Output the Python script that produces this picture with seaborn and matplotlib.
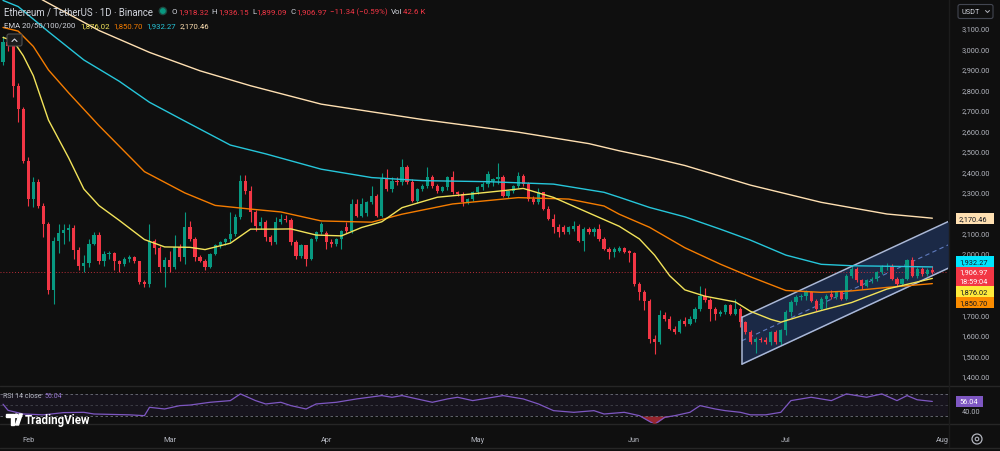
import matplotlib
matplotlib.use("Agg")
import matplotlib.pyplot as plt
import seaborn as sns
import numpy as np
from matplotlib.patches import Rectangle, FancyBboxPatch, Circle, Polygon
from matplotlib.lines import Line2D
from matplotlib.transforms import IdentityTransform

# ---------------------------------------------------------------- data
# candle index 0 = 27 Jan, one candle per day, last candle = 30 Jul
month_labels = ["Feb", "Mar", "Apr", "May", "Jun", "Jul", "Aug"]
month_days = [5, 33, 64, 94, 125, 155, 186]

open_ = [2935, 3030, 3012, 2818, 2704, 2452, 2265, 2346, 2232, 2143,
         1817, 2061, 2100, 2112, 2122, 2016, 1939, 1950, 2045, 2086,
         1963, 1996, 2000, 1960, 1947, 1972, 1980, 1960, 1858, 1850,
         2061, 2025, 1931, 1967, 1931, 2029, 1980, 2126, 2069, 1980,
         1963, 1931, 1996, 2037, 2053, 2069, 2094, 2175, 2354, 2305,
         2200, 2134, 2151, 2078, 2053, 2151, 2167, 2160, 2053, 1988,
         2037, 1972, 2069, 2102, 2100, 2053, 2045, 2069, 2126, 2110,
         2240, 2183, 2195, 2248, 2281, 2183, 2362, 2314, 2354, 2346,
         2419, 2346, 2256, 2313, 2330, 2370, 2330, 2305, 2322, 2370,
         2297, 2289, 2248, 2265, 2297, 2322, 2338, 2350, 2362, 2370,
         2281, 2305, 2330, 2379, 2338, 2265, 2248, 2297, 2216, 2167,
         2126, 2126, 2102, 2118, 2134, 2061, 2118, 2102, 2118, 2069,
         2021, 2004, 2012, 2024, 2010, 2000, 1850, 1809, 1768, 1581,
         1565, 1695, 1679, 1630, 1614, 1670, 1654, 1679, 1725, 1790,
         1770, 1727, 1703, 1711, 1744, 1703, 1727, 1662, 1614, 1565,
         1581, 1573, 1565, 1613, 1565, 1622, 1711, 1760, 1784, 1792,
         1809, 1768, 1727, 1776, 1800, 1784, 1809, 1776, 1890, 1923,
         1866, 1841, 1866, 1874, 1906, 1931, 1939, 1874, 1849, 1874,
         1964, 1890, 1923, 1898, 1918.32]
high = [3060, 3070, 3038, 2830, 2715, 2471, 2370, 2360, 2245, 2150,
        2080, 2143, 2143, 2143, 2138, 2030, 1990, 2070, 2102, 2102,
        2012, 2012, 2005, 1968, 1980, 1990, 1985, 1963, 1870, 2143,
        2069, 2035, 1980, 2012, 2086, 2045, 2200, 2159, 2080, 1990,
        1972, 2000, 2045, 2060, 2075, 2200, 2190, 2380, 2380, 2330,
        2210, 2175, 2160, 2090, 2175, 2190, 2185, 2170, 2065, 2045,
        2040, 2075, 2110, 2150, 2110, 2070, 2075, 2115, 2150, 2265,
        2265, 2270, 2255, 2330, 2290, 2390, 2410, 2370, 2370, 2460,
        2430, 2360, 2320, 2340, 2420, 2380, 2340, 2330, 2375, 2400,
        2305, 2300, 2270, 2305, 2330, 2345, 2400, 2365, 2440, 2380,
        2310, 2335, 2395, 2385, 2345, 2280, 2320, 2300, 2230, 2190,
        2140, 2135, 2130, 2155, 2140, 2125, 2125, 2125, 2140, 2080,
        2030, 2030, 2035, 2030, 2015, 2004, 1860, 1820, 1775, 1600,
        1720, 1710, 1690, 1645, 1680, 1685, 1690, 1735, 1840, 1830,
        1780, 1735, 1720, 1750, 1750, 1776, 1735, 1670, 1625, 1590,
        1590, 1590, 1620, 1625, 1630, 1720, 1770, 1795, 1800, 1820,
        1815, 1775, 1785, 1800, 1820, 1815, 1812, 1900, 1935, 1930,
        1875, 1875, 1885, 1912, 1940, 1950, 1945, 1885, 1880, 1972,
        1980, 1930, 1932, 1928, 1936.15]
low = [2920, 2990, 2761, 2639, 2440, 2232, 2225, 2220, 2078, 1800,
       1752, 2000, 2045, 2061, 1972, 1915, 1907, 1930, 2037, 1947,
       1939, 1972, 1915, 1907, 1935, 1955, 1950, 1850, 1833, 1833,
       1996, 1907, 1833, 1907, 1923, 1963, 1947, 2061, 1963, 1955,
       1915, 1925, 1990, 2025, 2040, 2055, 2085, 2165, 2290, 2150,
       2110, 2120, 2061, 2040, 2045, 2140, 2150, 2040, 1972, 1975,
       1939, 1965, 2060, 2095, 2020, 2030, 2035, 2020, 2100, 2100,
       2175, 2175, 2180, 2240, 2175, 2175, 2305, 2300, 2335, 2335,
       2340, 2250, 2245, 2305, 2320, 2320, 2295, 2300, 2310, 2290,
       2280, 2230, 2240, 2255, 2290, 2310, 2325, 2330, 2340, 2275,
       2270, 2295, 2320, 2330, 2255, 2240, 2240, 2210, 2160, 2100,
       2080, 2095, 2095, 2110, 2055, 2010, 2095, 2085, 2060, 2015,
       1972, 1980, 2005, 1998, 1955, 1840, 1770, 1720, 1560, 1508,
       1555, 1670, 1625, 1605, 1610, 1645, 1650, 1665, 1718, 1760,
       1670, 1672, 1690, 1700, 1695, 1695, 1640, 1605, 1555, 1510,
       1565, 1555, 1550, 1555, 1550, 1600, 1690, 1745, 1770, 1770,
       1760, 1715, 1720, 1730, 1775, 1775, 1770, 1770, 1880, 1860,
       1825, 1835, 1855, 1865, 1898, 1918, 1870, 1840, 1842, 1868,
       1885, 1880, 1890, 1890, 1899.09]
close = [3030, 3012, 2818, 2704, 2452, 2265, 2346, 2232, 2143, 1817,
         2061, 2100, 2112, 2122, 2016, 1939, 1950, 2045, 2086, 1963,
         1996, 2000, 1960, 1947, 1972, 1980, 1960, 1858, 1850, 2061,
         2025, 1931, 1967, 1931, 2029, 1980, 2126, 2069, 1980, 1963,
         1931, 1996, 2037, 2053, 2069, 2094, 2175, 2354, 2305, 2200,
         2134, 2151, 2078, 2053, 2151, 2167, 2160, 2053, 1988, 2037,
         1972, 2069, 2102, 2143, 2053, 2045, 2069, 2110, 2110, 2240,
         2183, 2240, 2248, 2281, 2183, 2362, 2314, 2354, 2346, 2419,
         2346, 2256, 2313, 2330, 2370, 2330, 2305, 2322, 2370, 2297,
         2289, 2248, 2265, 2297, 2322, 2338, 2387, 2362, 2370, 2281,
         2305, 2330, 2379, 2338, 2265, 2248, 2297, 2216, 2167, 2126,
         2102, 2102, 2126, 2134, 2061, 2118, 2102, 2118, 2069, 2021,
         2004, 2020, 2024, 2004, 2000, 1850, 1809, 1768, 1581, 1565,
         1695, 1679, 1630, 1614, 1670, 1654, 1679, 1727, 1790, 1770,
         1727, 1703, 1711, 1744, 1703, 1727, 1662, 1614, 1565, 1581,
         1573, 1565, 1613, 1565, 1622, 1711, 1760, 1784, 1792, 1809,
         1768, 1727, 1776, 1792, 1784, 1809, 1776, 1890, 1923, 1866,
         1841, 1866, 1874, 1906, 1931, 1939, 1874, 1849, 1874, 1964,
         1890, 1923, 1898, 1918.32, 1906.97]

ema20_days = [0, 2, 4, 6, 9, 13, 16, 19, 23, 28, 32, 37, 40, 45, 49, 54, 57, 62, 67, 71,
              75, 79, 86, 92, 99, 103, 109, 116, 122, 126, 129, 132, 135, 139, 142, 145, 148,
              152, 154, 158, 162, 168, 175, 184]
ema20_vals = [3054, 3038, 2965, 2867, 2650, 2465, 2313, 2232, 2160, 2066, 2030, 2028, 2017,
              2048, 2117, 2117, 2118, 2088, 2084, 2125, 2153, 2222, 2273, 2287, 2305, 2316,
              2272, 2196, 2131, 2069, 1990, 1889, 1820, 1789, 1775, 1761, 1715, 1676, 1662,
              1692, 1719, 1758, 1824, 1876.02]
ema50_days = [0, 3, 6, 9, 13, 19, 28, 36, 42, 49, 55, 63, 73, 79, 89, 102, 112, 119, 122,
              128, 135, 142, 148, 155, 162, 168, 175, 184]
ema50_vals = [3103, 3085, 3010, 2895, 2783, 2623, 2398, 2294, 2233, 2215, 2201, 2157, 2151,
              2190, 2240, 2271, 2264, 2230, 2190, 2126, 2026, 1946, 1884, 1817, 1808, 1815,
              1832, 1850.70]
ema100_days = [0, 3, 9, 16, 23, 29, 36, 45, 52, 63, 73, 83, 96, 109, 119, 122, 128, 135,
               142, 148, 155, 162, 168, 184]
ema100_vals = [3235, 3205, 3082, 2944, 2840, 2737, 2645, 2528, 2485, 2410, 2369, 2354, 2349,
               2337, 2297, 2273, 2223, 2177, 2117, 2063, 1990, 1945, 1938, 1932.27]
ema200_days = [0, 8, 19, 29, 39, 49, 63, 83, 102, 116, 122, 128, 135, 148, 162, 175, 184]
ema200_vals = [3350, 3235, 3088, 2981, 2891, 2818, 2728, 2653, 2591, 2535, 2500, 2469, 2428,
               2332, 2248, 2191, 2170.46]

rsi_days = [0, 1, 4, 8, 12, 16, 18, 25, 28, 29, 32, 35, 37, 41, 45, 47, 50, 52, 55, 57,
            60, 62, 66, 70, 75, 77, 79, 85, 88, 90, 93, 95, 99, 103, 106, 109, 113, 117, 119,
            123, 126, 129, 131, 133, 136, 138, 141, 143, 146, 148, 151, 154, 156, 160, 164,
            167, 171, 174, 177, 179, 181, 184]
rsi_vals = [51, 40, 33.5, 32, 36, 36.5, 33.5, 32, 30.5, 45.5, 42.5, 48.5, 49.5, 54.5, 57.5,
            69.5, 57.5, 51.5, 54.5, 48.5, 42.5, 51.5, 54.5, 60.5, 66.5, 63.5, 66.5, 54.5, 60.5,
            63.5, 57.5, 60.5, 66.5, 60.5, 51.5, 39.5, 36.5, 39.5, 33.5, 36.5, 30.5, 15, 27.5,
            30.5, 36.5, 48.5, 42.5, 39.5, 36.5, 32, 32, 36.5, 57.5, 63.5, 57.5, 69.5, 63.5,
            69.5, 57.5, 66.5, 59, 56.04]

# parallel channel drawing (start / end day, upper and lower price)
chan_days = [146.3, 187.5]
chan_upper = [1686, 2158]
chan_lower = [1457, 1930]

price_ticks = list(range(1400, 3101, 100))
countdown = "18:59:04"

# ---------------------------------------------------------------- style
BG = "#0f0f0f"
TXT = "#b2b5be"
TXT2 = "#d1d4dc"
UP = "#089981"
DN = "#f23645"
C20 = "#f2e35a"
C50 = "#f57c00"
C100 = "#26c6da"
C200 = "#ffe0b2"
RSI_C = "#7e57c2"

sns.set_theme(style="dark", rc={"axes.facecolor": BG, "figure.facecolor": BG})
plt.rcParams['font.family'] = ['Roboto', 'DejaVu Sans']

W, H = 1000, 452
fig = plt.figure(figsize=(W / 100, H / 100), dpi=100, facecolor=BG)


def add_px_axes(left, top, right, bottom):
    return fig.add_axes([left / W, 1 - bottom / H, (right - left) / W, (bottom - top) / H])


ax = add_px_axes(0, 0, 948, 386)
axr = add_px_axes(0, 387, 948, 424)
for a in (ax, axr):
    a.set_facecolor(BG)
    for s in a.spines.values():
        s.set_visible(False)
    a.grid(False)
    a.set_xlim(-0.6, 187.1)

ax.set_ylim(1355, 3242)
axr.set_ylim(17.35, 83.7)

days = np.arange(len(close))
o = np.array(open_, float)
c = np.array(close, float)
hi = np.array(high, float)
lo = np.array(low, float)

# channel
ax.fill_between(chan_days, chan_lower, chan_upper, color="#2a4a8a", alpha=0.45, lw=0, zorder=1)
chan_mid = [(a + b) / 2 for a, b in zip(chan_lower, chan_upper)]
ax.plot(chan_days, chan_mid, color="#5f7bbf", lw=0.8, ls=(0, (4, 3)), zorder=2)

# current price dotted line
ax.axhline(close[-1], color=DN, lw=0.7, ls=(0, (1, 2)), alpha=0.75, zorder=2)

# candles
col = np.where(c >= o, UP, DN)
ax.vlines(days, lo, hi, colors=col, lw=0.8, zorder=3)
body = np.maximum(np.abs(c - o), 4)
ax.bar(days, body, bottom=np.minimum(o, c), width=0.64, color=col, lw=0, zorder=4)

# channel borders
for yv in (chan_upper, chan_lower):
    ax.plot(chan_days, yv, color="#aab8d8", lw=1.1, zorder=5)
ax.plot([chan_days[0]] * 2, [chan_lower[0], chan_upper[0]], color="#aab8d8", lw=1.1, zorder=5)

# EMAs
for dd, vv, cc in [(ema200_days, ema200_vals, C200), (ema100_days, ema100_vals, C100),
                   (ema50_days, ema50_vals, C50), (ema20_days, ema20_vals, C20)]:
    sns.lineplot(x=dd, y=vv, ax=ax, color=cc, lw=1.0, zorder=6)

ax.set_xlabel("")
ax.set_ylabel("")
ax.set_xticks([])

# RSI pane
axr.axhspan(30, 70, color=RSI_C, alpha=0.08, lw=0)
for lvl, al in ((70, 0.9), (50, 0.45), (30, 0.9)):
    axr.axhline(lvl, color="#787b86", lw=0.6, ls=(0, (3, 3)), alpha=al)
rd = np.array(rsi_days, float)
rv = np.array(rsi_vals, float)
axr.fill_between(rd, rv, 30, where=rv < 30, interpolate=True, color=DN, alpha=0.6, lw=0)
sns.lineplot(x=rsi_days, y=rsi_vals, ax=axr, color=RSI_C, lw=0.9)
axr.set_xlabel("")
axr.set_ylabel("")
axr.set_xticks([])
axr.yaxis.tick_right()
axr.set_yticks([40])
axr.set_yticklabels(["40.00"])
axr.tick_params(axis='y', length=0, pad=9.8, labelsize=5.3, labelcolor=TXT)

# separators
for yy in (386.5, 424.5, 448.5):
    fig.add_artist(Line2D([0, 1], [1 - yy / H] * 2, transform=fig.transFigure, color="#262626", lw=1))
fig.add_artist(Line2D([948.5 / W] * 2, [1 - 448 / H, 1], transform=fig.transFigure, color="#1c1c1c", lw=1))

# month labels
for d, lab in zip(month_days, month_labels):
    xp = ax.transData.transform((d, 2000))[0]
    fig.text(xp / W, 1 - 440.5 / H, lab, ha='center', va='center', fontsize=5.3, color=TXT)

ID = IdentityTransform()


def top_of(axis, v):
    return H - axis.transData.transform((0, v))[1]


def box(x0, y0, x1, y1, color):
    fig.add_artist(Rectangle((x0, H - y1), x1 - x0, y1 - y0, transform=ID, color=color, lw=0, zorder=10))


# right-hand value labels
bx0, bx1 = 955.5, 993.5
py = top_of(ax, close[-1])
p_top, p_bot = py - 5, py + 14
occupied = [(p_top, p_bot)]
box(bx0, p_top, bx1, p_bot, DN)
fig.text((bx0 + 3.5) / W, 1 - py / H, f"{close[-1]:,.2f}", fontsize=5.3, color="white", va='center', zorder=11)
fig.text((bx0 + 3.5) / W, 1 - (py + 9) / H, countdown, fontsize=5.3, color="white", va='center', zorder=11)

items = [(ema200_vals[-1], C200), (ema100_vals[-1], "#00e5ff"), (ema20_vals[-1], "#ffeb3b"),
         (ema50_vals[-1], "#fb8c00")]
above = sorted([it for it in items if top_of(ax, it[0]) < py], key=lambda it: -top_of(ax, it[0]))
below = sorted([it for it in items if top_of(ax, it[0]) >= py], key=lambda it: top_of(ax, it[0]))
placed = []
lim = p_top
for v, bg in above:
    cy = min(top_of(ax, v), lim - 5.5)
    lim = cy - 5.5
    placed.append((v, bg, cy))
lim = p_bot
for v, bg in below:
    cy = max(top_of(ax, v), lim + 5.5)
    lim = cy + 5.5
    placed.append((v, bg, cy))
for v, bg, cy in placed:
    box(bx0, cy - 5.5, bx1, cy + 5.5, bg)
    occupied.append((cy - 5.5, cy + 5.5))
    fig.text((bx0 + 3.5) / W, 1 - cy / H, f"{v:,.2f}", fontsize=5.3, color="#131722", va='center', zorder=11)

# price scale tick labels (hidden where a value label covers them)
ax.yaxis.tick_right()
ax.set_yticks(price_ticks)
tick_labels = []
for t in price_ticks:
    ty = top_of(ax, t)
    covered = any(a0 - 1 < ty < b0 + 1 for a0, b0 in occupied)
    tick_labels.append("" if covered else f"{t:,.2f}")
ax.set_yticklabels(tick_labels)
ax.tick_params(axis='y', length=0, pad=9.8, labelsize=5.3, labelcolor=TXT)

ry = top_of(axr, rsi_vals[-1])
box(bx0, ry - 5.5, bx0 + 27, ry + 5.5, RSI_C)
fig.text((bx0 + 3.5) / W, 1 - ry / H, f"{rsi_vals[-1]:.2f}", fontsize=5.3, color="white", va='center', zorder=11)

# USDT selector
fig.add_artist(FancyBboxPatch((958, H - 19.5), 35, 14, boxstyle="round,pad=0,rounding_size=2",
                              transform=ID, fc=BG, ec="#434651", lw=0.8, zorder=10))
fig.text(961.5 / W, 1 - 12.5 / H, "USDT", fontsize=5.3, color=TXT2, va='center', zorder=11)
fig.add_artist(Line2D([985.5, 987.5, 989.5], [H - 11.5, H - 13.5, H - 11.5], transform=ID,
                      color=TXT, lw=0.7, zorder=11))

# collapse button
fig.add_artist(FancyBboxPatch((7, H - 47), 15, 12, boxstyle="round,pad=0,rounding_size=2",
                              transform=ID, fc="#1c1c1c", ec="#505050", lw=0.8, zorder=10))
fig.add_artist(Line2D([12, 14.5, 17], [H - 42.5, H - 40, H - 42.5], transform=ID,
                      color=TXT2, lw=0.8, zorder=11))

# gear icon
fig.add_artist(Circle((977, H - 440), 5, transform=ID, fill=False, ec=TXT, lw=0.9, zorder=10))
fig.add_artist(Circle((977, H - 440), 1.8, transform=ID, fill=False, ec=TXT, lw=0.8, zorder=10))

# header text
renderer = fig.canvas.get_renderer()


def parts(x, yc, segs, size, weight="normal"):
    for s, cc, gap in segs:
        t = fig.text(x / W, 1 - yc / H, s, color=cc, fontsize=size, va='center', ha='left',
                     fontweight=weight, zorder=12)
        x += t.get_window_extent(renderer=renderer).width + gap
    return x


xe = parts(4, 12, [("Ethereum / TetherUS · 1D · Binance", TXT2, 0)], 6.9)
fig.add_artist(Circle((xe + 10, H - 12), 3.6, transform=ID, color="#1d4a42", zorder=12))
fig.add_artist(Circle((xe + 10, H - 12), 2.2, transform=ID, color=UP, zorder=13))
parts(xe + 19, 12, [("O", TXT2, 0.5), ("1,918.32", DN, 3.5), ("H", TXT2, 0.5), ("1,936.15", DN, 3.5),
                    ("L", TXT2, 0.5), ("1,899.09", DN, 3.5), ("C", TXT2, 0.5), ("1,906.97", DN, 3.5),
                    ("−11.34 (−0.59%)", DN, 3.5), ("Vol", TXT2, 0.5), ("42.6 K", DN, 0)], 5.65)
parts(4, 26, [("EMA 20/50/100/200", TXT2, 5), ("1,876.02", C20, 3.5), ("1,850.70", C50, 3.5),
              ("1,932.27", C100, 3.5), ("2,170.46", C200, 0)], 5.6)
parts(3, 396.5, [("RSI 14 close", TXT, 3), (f"{rsi_vals[-1]:.2f}", "#9575cd", 0)], 5.0)

# TradingView logo
fig.add_artist(Rectangle((6, H - 418), 8, 3, transform=ID, color="white", zorder=12))
fig.add_artist(Rectangle((10.5, H - 426), 3.5, 9, transform=ID, color="white", zorder=12))
fig.add_artist(Circle((16.3, H - 416.8), 1.7, transform=ID, color="white", zorder=12))
fig.add_artist(Polygon([(15.5, H - 426), (19.3, H - 415), (22.3, H - 415), (18.5, H - 426)],
                       transform=ID, color="white", zorder=12))
fig.text(24.5 / W, 1 - 420.5 / H, "TradingView", fontsize=8.3, color="white", va='center',
         fontweight="semibold", zorder=12)

fig.savefig("out.png", dpi=100, facecolor=BG)
